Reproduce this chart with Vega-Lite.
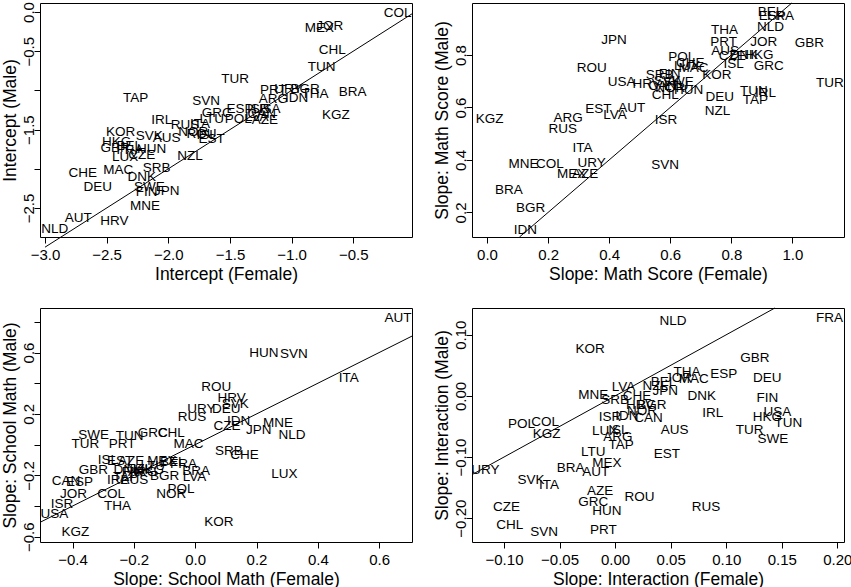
{
  "$schema": "https://vega.github.io/schema/vega-lite/v6.json",
  "background": "white",
  "padding": {"left": 0, "top": 0, "right": 0, "bottom": 0},
  "datasets": {
    "pts": [
      {"panel": "int", "country": "COL", "female": -0.14, "male": -0.01},
      {"panel": "int", "country": "MEX", "female": -0.775, "male": -0.204},
      {"panel": "int", "country": "JOR", "female": -0.69, "male": -0.18},
      {"panel": "int", "country": "CHL", "female": -0.67, "male": -0.49},
      {"panel": "int", "country": "TUN", "female": -0.756, "male": -0.7},
      {"panel": "int", "country": "TUR", "female": -1.457, "male": -0.85},
      {"panel": "int", "country": "PRT", "female": -1.148, "male": -0.99},
      {"panel": "int", "country": "BGR", "female": -0.891, "male": -0.986},
      {"panel": "int", "country": "URY", "female": -1.027, "male": -0.986},
      {"panel": "int", "country": "HUN", "female": -2.135, "male": -1.752},
      {"panel": "int", "country": "IDN", "female": -0.959, "male": -1.093},
      {"panel": "int", "country": "THA", "female": -0.81, "male": -1.05},
      {"panel": "int", "country": "ARG", "female": -1.148, "male": -1.114},
      {"panel": "int", "country": "BRA", "female": -0.505, "male": -1.02},
      {"panel": "int", "country": "KGZ", "female": -0.64, "male": -1.32},
      {"panel": "int", "country": "TAP", "female": -2.264, "male": -1.093},
      {"panel": "int", "country": "SVN", "female": -1.694, "male": -1.135},
      {"panel": "int", "country": "ESP", "female": -1.418, "male": -1.233},
      {"panel": "int", "country": "ISR", "female": -1.27, "male": -1.233},
      {"panel": "int", "country": "USA", "female": -1.202, "male": -1.233},
      {"panel": "int", "country": "GRC", "female": -1.608, "male": -1.284},
      {"panel": "int", "country": "LVA", "female": -1.283, "male": -1.339},
      {"panel": "int", "country": "CAN", "female": -1.243, "male": -1.3},
      {"panel": "int", "country": "AZE", "female": -1.216, "male": -1.382},
      {"panel": "int", "country": "IRL", "female": -2.054, "male": -1.378},
      {"panel": "int", "country": "LTU", "female": -1.648, "male": -1.361},
      {"panel": "int", "country": "POL", "female": -1.432, "male": -1.37},
      {"panel": "int", "country": "RUS", "female": -1.865, "male": -1.437},
      {"panel": "int", "country": "ITA", "female": -1.743, "male": -1.425},
      {"panel": "int", "country": "NOR", "female": -1.797, "male": -1.53},
      {"panel": "int", "country": "ROU", "female": -1.73, "male": -1.552},
      {"panel": "int", "country": "ISL", "female": -1.689, "male": -1.573},
      {"panel": "int", "country": "EST", "female": -1.648, "male": -1.616},
      {"panel": "int", "country": "KOR", "female": -2.386, "male": -1.53},
      {"panel": "int", "country": "SVK", "female": -2.154, "male": -1.586},
      {"panel": "int", "country": "AUS", "female": -2.013, "male": -1.607},
      {"panel": "int", "country": "HKG", "female": -2.419, "male": -1.658},
      {"panel": "int", "country": "BEL", "female": -2.316, "male": -1.709},
      {"panel": "int", "country": "GBR", "female": -2.432, "male": -1.735},
      {"panel": "int", "country": "FRA", "female": -2.311, "male": -1.764},
      {"panel": "int", "country": "LUX", "female": -2.351, "male": -1.849},
      {"panel": "int", "country": "CZE", "female": -2.216, "male": -1.82},
      {"panel": "int", "country": "NZL", "female": -1.824, "male": -1.841},
      {"panel": "int", "country": "CHE", "female": -2.694, "male": -2.05},
      {"panel": "int", "country": "MAC", "female": -2.406, "male": -2.01},
      {"panel": "int", "country": "SRB", "female": -2.094, "male": -1.986},
      {"panel": "int", "country": "DNK", "female": -2.216, "male": -2.11},
      {"panel": "int", "country": "DEU", "female": -2.573, "male": -2.232},
      {"panel": "int", "country": "SWE", "female": -2.154, "male": -2.232},
      {"panel": "int", "country": "FIN", "female": -2.175, "male": -2.3},
      {"panel": "int", "country": "JPN", "female": -2.013, "male": -2.283},
      {"panel": "int", "country": "MNE", "female": -2.189, "male": -2.478},
      {"panel": "int", "country": "HRV", "female": -2.438, "male": -2.67},
      {"panel": "int", "country": "AUT", "female": -2.73, "male": -2.628},
      {"panel": "int", "country": "NLD", "female": -2.92, "male": -2.764},

      {"panel": "math", "country": "BEL", "female": 0.928, "male": 0.962},
      {"panel": "math", "country": "ESP", "female": 0.934, "male": 0.947},
      {"panel": "math", "country": "FRA", "female": 0.961, "male": 0.947},
      {"panel": "math", "country": "NLD", "female": 0.928, "male": 0.905},
      {"panel": "math", "country": "THA", "female": 0.778, "male": 0.896},
      {"panel": "math", "country": "JPN", "female": 0.416, "male": 0.857},
      {"panel": "math", "country": "JOR", "female": 0.906, "male": 0.851},
      {"panel": "math", "country": "PRT", "female": 0.775, "male": 0.85},
      {"panel": "math", "country": "GBR", "female": 1.056, "male": 0.845},
      {"panel": "math", "country": "AUS", "female": 0.78, "male": 0.815},
      {"panel": "math", "country": "CZE", "female": 0.803, "male": 0.796},
      {"panel": "math", "country": "DNK", "female": 0.841, "male": 0.798},
      {"panel": "math", "country": "HKG", "female": 0.89, "male": 0.798},
      {"panel": "math", "country": "ISL", "female": 0.808, "male": 0.767},
      {"panel": "math", "country": "GRC", "female": 0.923, "male": 0.758},
      {"panel": "math", "country": "POL", "female": 0.638, "male": 0.793},
      {"panel": "math", "country": "CHE", "female": 0.666, "male": 0.77},
      {"panel": "math", "country": "LUX", "female": 0.655, "male": 0.757},
      {"panel": "math", "country": "MAC", "female": 0.676, "male": 0.751},
      {"panel": "math", "country": "ROU", "female": 0.343, "male": 0.751},
      {"panel": "math", "country": "KOR", "female": 0.753, "male": 0.722},
      {"panel": "math", "country": "SRB", "female": 0.565, "male": 0.722},
      {"panel": "math", "country": "FIN", "female": 0.598, "male": 0.728},
      {"panel": "math", "country": "SVK", "female": 0.59, "male": 0.7},
      {"panel": "math", "country": "SWE", "female": 0.627, "male": 0.697},
      {"panel": "math", "country": "CAN", "female": 0.575, "male": 0.68},
      {"panel": "math", "country": "NOR", "female": 0.6, "male": 0.675},
      {"panel": "math", "country": "LTU", "female": 0.62, "male": 0.68},
      {"panel": "math", "country": "HRV", "female": 0.523, "male": 0.688},
      {"panel": "math", "country": "USA", "female": 0.441, "male": 0.697},
      {"panel": "math", "country": "CHL", "female": 0.584, "male": 0.649},
      {"panel": "math", "country": "HUN", "female": 0.66, "male": 0.668},
      {"panel": "math", "country": "TUN", "female": 0.874, "male": 0.662},
      {"panel": "math", "country": "IRL", "female": 0.912, "male": 0.655},
      {"panel": "math", "country": "TAP", "female": 0.879, "male": 0.63},
      {"panel": "math", "country": "DEU", "female": 0.762, "male": 0.639},
      {"panel": "math", "country": "TUR", "female": 1.123, "male": 0.694},
      {"panel": "math", "country": "NZL", "female": 0.755, "male": 0.588},
      {"panel": "math", "country": "EST", "female": 0.365, "male": 0.594},
      {"panel": "math", "country": "AUT", "female": 0.474, "male": 0.598},
      {"panel": "math", "country": "LVA", "female": 0.419, "male": 0.57},
      {"panel": "math", "country": "KGZ", "female": 0.009, "male": 0.556},
      {"panel": "math", "country": "ARG", "female": 0.266, "male": 0.559},
      {"panel": "math", "country": "RUS", "female": 0.248, "male": 0.518},
      {"panel": "math", "country": "ISR", "female": 0.586, "male": 0.553},
      {"panel": "math", "country": "ITA", "female": 0.313, "male": 0.445},
      {"panel": "math", "country": "MNE", "female": 0.12, "male": 0.386},
      {"panel": "math", "country": "COL", "female": 0.206, "male": 0.386},
      {"panel": "math", "country": "URY", "female": 0.343, "male": 0.39},
      {"panel": "math", "country": "SVN", "female": 0.583, "male": 0.381},
      {"panel": "math", "country": "MEX", "female": 0.277, "male": 0.346},
      {"panel": "math", "country": "AZE", "female": 0.321, "male": 0.346},
      {"panel": "math", "country": "BRA", "female": 0.072, "male": 0.285},
      {"panel": "math", "country": "BGR", "female": 0.143, "male": 0.218},
      {"panel": "math", "country": "IDN", "female": 0.126, "male": 0.132},

      {"panel": "school", "country": "AUT", "female": 0.661, "male": 0.826},
      {"panel": "school", "country": "HUN", "female": 0.224, "male": 0.594},
      {"panel": "school", "country": "SVN", "female": 0.322, "male": 0.588},
      {"panel": "school", "country": "ITA", "female": 0.501, "male": 0.436},
      {"panel": "school", "country": "ROU", "female": 0.069, "male": 0.378},
      {"panel": "school", "country": "HRV", "female": 0.119, "male": 0.307},
      {"panel": "school", "country": "SVK", "female": 0.131, "male": 0.268},
      {"panel": "school", "country": "URY", "female": 0.02, "male": 0.235},
      {"panel": "school", "country": "DEU", "female": 0.101, "male": 0.235},
      {"panel": "school", "country": "RUS", "female": -0.01, "male": 0.182},
      {"panel": "school", "country": "IDN", "female": 0.142, "male": 0.151},
      {"panel": "school", "country": "CZE", "female": 0.104, "male": 0.123},
      {"panel": "school", "country": "JPN", "female": 0.207, "male": 0.095},
      {"panel": "school", "country": "MNE", "female": 0.27, "male": 0.138},
      {"panel": "school", "country": "NLD", "female": 0.316, "male": 0.065},
      {"panel": "school", "country": "SWE", "female": -0.331, "male": 0.065},
      {"panel": "school", "country": "TUN", "female": -0.214, "male": 0.058},
      {"panel": "school", "country": "GRC", "female": -0.138, "male": 0.075},
      {"panel": "school", "country": "CHL", "female": -0.078, "male": 0.075},
      {"panel": "school", "country": "TUR", "female": -0.358, "male": 0.004},
      {"panel": "school", "country": "PRT", "female": -0.238, "male": 0.004},
      {"panel": "school", "country": "MAC", "female": -0.022, "male": 0.004},
      {"panel": "school", "country": "SRB", "female": 0.11, "male": -0.039},
      {"panel": "school", "country": "CHE", "female": 0.161, "male": -0.065},
      {"panel": "school", "country": "LUX", "female": 0.291, "male": -0.19},
      {"panel": "school", "country": "ISL", "female": -0.285, "male": -0.1},
      {"panel": "school", "country": "EST", "female": -0.245, "male": -0.104},
      {"panel": "school", "country": "AZE", "female": -0.209, "male": -0.104},
      {"panel": "school", "country": "GBR", "female": -0.332, "male": -0.162},
      {"panel": "school", "country": "MEX", "female": -0.109, "male": -0.104},
      {"panel": "school", "country": "BEL", "female": -0.073, "male": -0.115},
      {"panel": "school", "country": "FRA", "female": -0.038, "male": -0.126},
      {"panel": "school", "country": "BRA", "female": 0.003, "male": -0.169},
      {"panel": "school", "country": "BGR", "female": -0.1, "male": -0.201},
      {"panel": "school", "country": "LVA", "female": -0.002, "male": -0.21},
      {"panel": "school", "country": "DNK", "female": -0.22, "male": -0.162},
      {"panel": "school", "country": "FIN", "female": -0.204, "male": -0.18},
      {"panel": "school", "country": "NZL", "female": -0.182, "male": -0.158},
      {"panel": "school", "country": "HKG", "female": -0.149, "male": -0.168},
      {"panel": "school", "country": "LTU", "female": -0.138, "male": -0.136},
      {"panel": "school", "country": "IRL", "female": -0.253, "male": -0.229},
      {"panel": "school", "country": "AUS", "female": -0.198, "male": -0.229},
      {"panel": "school", "country": "ARG", "female": -0.171, "male": -0.18},
      {"panel": "school", "country": "TAP", "female": -0.227, "male": -0.212},
      {"panel": "school", "country": "CAN", "female": -0.421, "male": -0.234},
      {"panel": "school", "country": "ESP", "female": -0.377, "male": -0.24},
      {"panel": "school", "country": "JOR", "female": -0.397, "male": -0.32},
      {"panel": "school", "country": "COL", "female": -0.274, "male": -0.32},
      {"panel": "school", "country": "POL", "female": -0.046, "male": -0.288},
      {"panel": "school", "country": "NOR", "female": -0.078, "male": -0.32},
      {"panel": "school", "country": "ISR", "female": -0.434, "male": -0.385},
      {"panel": "school", "country": "THA", "female": -0.253, "male": -0.402},
      {"panel": "school", "country": "USA", "female": -0.459, "male": -0.454},
      {"panel": "school", "country": "KOR", "female": 0.077, "male": -0.504},
      {"panel": "school", "country": "KGZ", "female": -0.391, "male": -0.569},

      {"panel": "inter", "country": "NLD", "female": 0.052, "male": 0.123},
      {"panel": "inter", "country": "FRA", "female": 0.193, "male": 0.1275},
      {"panel": "inter", "country": "KOR", "female": -0.0226, "male": 0.076},
      {"panel": "inter", "country": "GBR", "female": 0.1257, "male": 0.0624},
      {"panel": "inter", "country": "THA", "female": 0.0647, "male": 0.0396},
      {"panel": "inter", "country": "ESP", "female": 0.0977, "male": 0.0363},
      {"panel": "inter", "country": "DEU", "female": 0.137, "male": 0.0298},
      {"panel": "inter", "country": "MAC", "female": 0.0707, "male": 0.028},
      {"panel": "inter", "country": "JOR", "female": 0.0571, "male": 0.0298},
      {"panel": "inter", "country": "BEL", "female": 0.0436, "male": 0.0228},
      {"panel": "inter", "country": "LVA", "female": 0.0075, "male": 0.0147},
      {"panel": "inter", "country": "NZL", "female": 0.0361, "male": 0.016},
      {"panel": "inter", "country": "JPN", "female": 0.0451, "male": 0.008},
      {"panel": "inter", "country": "MNE", "female": -0.0196, "male": 0.0016},
      {"panel": "inter", "country": "SRB", "female": 0.0, "male": -0.0065},
      {"panel": "inter", "country": "CHE", "female": 0.0196, "male": -0.0006},
      {"panel": "inter", "country": "DNK", "female": 0.078, "male": -0.0003},
      {"panel": "inter", "country": "FIN", "female": 0.137, "male": -0.003},
      {"panel": "inter", "country": "HRV", "female": 0.0226, "male": -0.0147},
      {"panel": "inter", "country": "BGR", "female": 0.0331, "male": -0.0147},
      {"panel": "inter", "country": "NOR", "female": 0.0241, "male": -0.024},
      {"panel": "inter", "country": "USA", "female": 0.146, "male": -0.026},
      {"panel": "inter", "country": "IRL", "female": 0.0878, "male": -0.028},
      {"panel": "inter", "country": "HKG", "female": 0.137, "male": -0.035},
      {"panel": "inter", "country": "TUN", "female": 0.156, "male": -0.045},
      {"panel": "inter", "country": "ISR", "female": -0.0045, "male": -0.034},
      {"panel": "inter", "country": "IDN", "female": 0.0105, "male": -0.033},
      {"panel": "inter", "country": "CAN", "female": 0.03, "male": -0.036},
      {"panel": "inter", "country": "POL", "female": -0.0842, "male": -0.046},
      {"panel": "inter", "country": "COL", "female": -0.063, "male": -0.042},
      {"panel": "inter", "country": "KGZ", "female": -0.0617, "male": -0.0625},
      {"panel": "inter", "country": "LUX", "female": -0.009, "male": -0.058},
      {"panel": "inter", "country": "ISL", "female": 0.003, "male": -0.056},
      {"panel": "inter", "country": "ARG", "female": 0.0024, "male": -0.067},
      {"panel": "inter", "country": "AUS", "female": 0.0535, "male": -0.055},
      {"panel": "inter", "country": "TUR", "female": 0.121, "male": -0.056},
      {"panel": "inter", "country": "SWE", "female": 0.142, "male": -0.0706},
      {"panel": "inter", "country": "TAP", "female": 0.0054, "male": -0.08},
      {"panel": "inter", "country": "LTU", "female": -0.0196, "male": -0.091},
      {"panel": "inter", "country": "EST", "female": 0.0466, "male": -0.095},
      {"panel": "inter", "country": "MEX", "female": -0.0075, "male": -0.11},
      {"panel": "inter", "country": "BRA", "female": -0.04, "male": -0.118},
      {"panel": "inter", "country": "AUT", "female": -0.0174, "male": -0.125},
      {"panel": "inter", "country": "URY", "female": -0.1167, "male": -0.122},
      {"panel": "inter", "country": "SVK", "female": -0.0758, "male": -0.138},
      {"panel": "inter", "country": "ITA", "female": -0.0596, "male": -0.145},
      {"panel": "inter", "country": "AZE", "female": -0.0135, "male": -0.156},
      {"panel": "inter", "country": "ROU", "female": 0.0219, "male": -0.166},
      {"panel": "inter", "country": "GRC", "female": -0.0196, "male": -0.173},
      {"panel": "inter", "country": "HUN", "female": -0.0075, "male": -0.188},
      {"panel": "inter", "country": "RUS", "female": 0.0818, "male": -0.182},
      {"panel": "inter", "country": "CZE", "female": -0.0977, "male": -0.182},
      {"panel": "inter", "country": "CHL", "female": -0.0948, "male": -0.212},
      {"panel": "inter", "country": "SVN", "female": -0.0638, "male": -0.2226},
      {"panel": "inter", "country": "PRT", "female": -0.0106, "male": -0.22}
    ],
    "diag": [
      {"panel": "int", "female": -3.0, "male": -3.0},
      {"panel": "int", "female": -0.0235, "male": -0.0235},
      {"panel": "math", "female": 0.1065, "male": 0.1065},
      {"panel": "math", "female": 0.998, "male": 0.998},
      {"panel": "school", "female": -0.506, "male": -0.506},
      {"panel": "school", "female": 0.707, "male": 0.707},
      {"panel": "inter", "female": -0.1288, "male": -0.1288},
      {"panel": "inter", "female": 0.1438, "male": 0.1438}
    ]
  },
  "columns": 2,
  "spacing": {"row": 71, "column": 60},
  "bounds": "flush",
  "concat": [
    {
      "width": 372,
      "height": 234,
      "encoding": {
        "x": {"field": "female", "type": "quantitative", "title": "Intercept (Female)",
          "scale": {"domain": [-3.0405, -0.0235], "nice": false, "zero": false},
          "axis": {"values": [-3, -2.5, -2, -1.5, -1, -0.5], "format": ".1f"}},
        "y": {"field": "male", "type": "quantitative", "title": "Intercept (Male)",
          "scale": {"domain": [-2.87, 0.1148], "nice": false, "zero": false},
          "axis": {"values": [-2.5, -2, -1.5, -1, -0.5, 0],
            "labelExpr": "datum.value == -1 || datum.value == -2 ? '' : format(datum.value, '.1f')"}}
      },
      "layer": [
        {"data": {"name": "pts"}, "transform": [{"filter": "datum.panel == 'int'"}],
          "mark": {"type": "text", "clip": true}, "encoding": {"text": {"field": "country"}}},
        {"data": {"name": "diag"}, "transform": [{"filter": "datum.panel == 'int'"}],
          "mark": {"type": "line", "color": "black", "strokeWidth": 1}}
      ]
    },
    {
      "width": 372,
      "height": 234,
      "encoding": {
        "x": {"field": "female", "type": "quantitative", "title": "Slope: Math Score (Female)",
          "scale": {"domain": [-0.049, 1.169], "nice": false, "zero": false},
          "axis": {"values": [0, 0.2, 0.4, 0.6, 0.8, 1.0], "format": ".1f"}},
        "y": {"field": "male", "type": "quantitative", "title": "Slope: Math Score (Male)",
          "scale": {"domain": [0.1065, 0.998], "nice": false, "zero": false},
          "axis": {"values": [0.2, 0.4, 0.6, 0.8], "format": ".1f"}}
      },
      "layer": [
        {"data": {"name": "pts"}, "transform": [{"filter": "datum.panel == 'math'"}],
          "mark": {"type": "text", "clip": true}, "encoding": {"text": {"field": "country"}}},
        {"data": {"name": "diag"}, "transform": [{"filter": "datum.panel == 'math'"}],
          "mark": {"type": "line", "color": "black", "strokeWidth": 1}}
      ]
    },
    {
      "width": 372,
      "height": 234,
      "encoding": {
        "x": {"field": "female", "type": "quantitative", "title": "Slope: School Math (Female)",
          "scale": {"domain": [-0.506, 0.707], "nice": false, "zero": false},
          "axis": {"values": [-0.4, -0.2, 0, 0.2, 0.4, 0.6], "format": ".1f"}},
        "y": {"field": "male", "type": "quantitative", "title": "Slope: School Math (Male)",
          "scale": {"domain": [-0.634, 0.89], "nice": false, "zero": false},
          "axis": {"values": [-0.6, -0.4, -0.2, 0, 0.2, 0.4, 0.6, 0.8],
            "labelExpr": "datum.value == 0.6 || datum.value == 0.2 || datum.value == -0.2 || datum.value == -0.6 ? format(datum.value, '.1f') : ''"}}
      },
      "layer": [
        {"data": {"name": "pts"}, "transform": [{"filter": "datum.panel == 'school'"}],
          "mark": {"type": "text", "clip": true}, "encoding": {"text": {"field": "country"}}},
        {"data": {"name": "diag"}, "transform": [{"filter": "datum.panel == 'school'"}],
          "mark": {"type": "line", "color": "black", "strokeWidth": 1}}
      ]
    },
    {
      "width": 372,
      "height": 234,
      "encoding": {
        "x": {"field": "female", "type": "quantitative", "title": "Slope: Interaction (Female)",
          "scale": {"domain": [-0.1288, 0.206], "nice": false, "zero": false},
          "axis": {"values": [-0.1, -0.05, 0, 0.05, 0.1, 0.15, 0.2], "format": ".2f"}},
        "y": {"field": "male", "type": "quantitative", "title": "Slope: Interaction (Male)",
          "scale": {"domain": [-0.239, 0.1438], "nice": false, "zero": false},
          "axis": {"values": [-0.2, -0.1, 0, 0.1], "format": ".2f"}}
      },
      "layer": [
        {"data": {"name": "pts"}, "transform": [{"filter": "datum.panel == 'inter'"}],
          "mark": {"type": "text", "clip": true}, "encoding": {"text": {"field": "country"}}},
        {"data": {"name": "diag"}, "transform": [{"filter": "datum.panel == 'inter'"}],
          "mark": {"type": "line", "color": "black", "strokeWidth": 1}}
      ]
    }
  ],
  "config": {
    "font": "Liberation Sans",
    "view": {"stroke": "black", "strokeWidth": 1},
    "text": {"font": "Liberation Sans", "fontSize": 13.5, "color": "black", "align": "center", "baseline": "middle"},
    "axis": {
      "domain": false, "grid": false, "ticks": true, "tickColor": "black", "tickSize": 6, "tickWidth": 1,
      "labelFont": "Liberation Sans", "labelFontSize": 15, "labelColor": "black",
      "labelFlush": false, "labelOverlap": false, "labelBound": false,
      "titleFont": "Liberation Sans", "titleFontSize": 17.5, "titleFontWeight": "normal", "titleColor": "black"
    },
    "axisX": {"labelPadding": 4, "titlePadding": 3},
    "axisY": {"labelAngle": -90, "labelAlign": "center", "labelBaseline": "alphabetic", "labelPadding": 1, "titlePadding": 2}
  }
}
